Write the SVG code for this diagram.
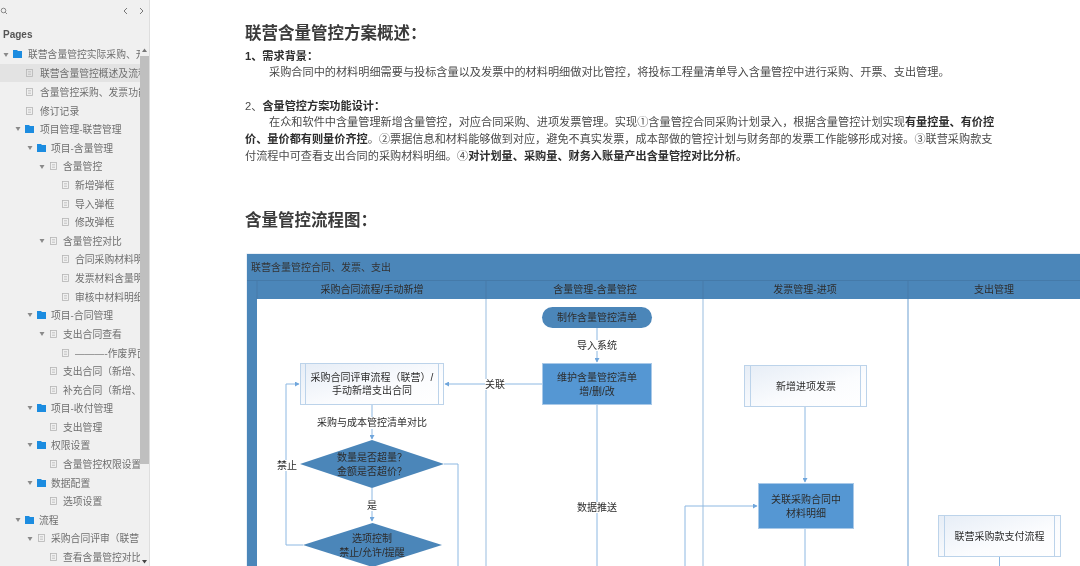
<svg xmlns="http://www.w3.org/2000/svg" width="1080" height="566" viewBox="0 0 1080 566">
<style>
text{font-family:"Liberation Sans","Noto Sans CJK SC",sans-serif;fill:#333}
.t{font-size:9.8px;fill:#6e6e6e}
.h{font-size:16.5px;font-weight:700;fill:#3a3a3a}
.b{font-size:11.16px;fill:#4a4a4a}
.bb{font-weight:700;fill:#2e2e2e}
.f{font-size:10px;text-anchor:middle;fill:#2c2c2c}
.c{fill:none;stroke:#8db8e2;stroke-width:1}
.lane{stroke:#bcd3ea;stroke-width:1.5;fill:none}
.doc{fill:url(#dg);stroke:#bcd3ea;stroke-width:1}
.blue{fill:#5597d3;stroke:#a9c9e8;stroke-width:1}
.dark{fill:#4c86b9}
.ic{fill:none;stroke:#b5b5b5;stroke-width:.8}
.fo{fill:#1c8ce0}
.ar{fill:#8a8a8a}
.w{fill:#fff}
</style>
<defs>
<linearGradient id="dg" x1="0" y1="0" x2="1" y2="1"><stop offset="0" stop-color="#e6edf6"/><stop offset=".6" stop-color="#fbfcfe"/><stop offset="1" stop-color="#fff"/></linearGradient>
<marker id="a" markerWidth="5" markerHeight="5" refX="4" refY="2.5" orient="auto" markerUnits="userSpaceOnUse"><path d="M0 0L4.500 2.500L0 5Z" fill="#6fa6dc"/></marker>
<clipPath id="sc"><rect x="0" y="44" width="140" height="522"/></clipPath>
<filter id="bl" x="0" y="0" width="100%" height="100%" filterUnits="objectBoundingBox"><feGaussianBlur stdDeviation="0.45"/></filter>
<symbol id="pg" width="8" height="8" viewBox="0 0 8 8" overflow="visible"><rect x=".5" y=".5" width="6" height="7" class="ic"/><path d="M2 2.800H5M2 5.200H5" class="ic"/></symbol>
<symbol id="fd" width="10" height="8" viewBox="0 0 10 8"><path d="M0 0H4L5 1H9V8H0Z" class="fo"/></symbol>
<symbol id="tg" width="6" height="4" viewBox="0 0 6 4"><path d="M.5 0H5.500L3 4Z" class="ar"/></symbol>
</defs>
<g filter="url(#bl)">
<rect width="1080" height="566" fill="#fff"/>
<g id="sidebar">
<rect width="149" height="566" fill="#f0f0f0"/>
<rect x="149" width="1" height="566" fill="#dedede"/>
<rect y="64" width="140" height="18" fill="#e3e3e3"/>
<rect x="140" y="56" width="9" height="408" fill="#bfbfbf"/>
<path d="M144.500 48.500L147 52H142Z" fill="#777"/><path d="M142 560H147L144.500 563.500Z" fill="#444"/>
<circle cx="3.500" cy="10.500" r="2.300" fill="none" stroke="#888"/><path d="M5.200 12.200L7 14" stroke="#888"/>
<path d="M127 8L124 11L127 14M140 8L143 11L140 14" fill="none" stroke="#777"/>
<text x="3" y="38" style="font-size:10px;font-weight:700;fill:#555">Pages</text>
<g clip-path="url(#sc)">
<use href="#tg" x="3" y="53"/><use href="#fd" x="13" y="50"/><text class="t" x="28" y="58">联营含量管控实际采购、开</text>
<use href="#pg" x="26" y="69"/><text class="t" x="40" y="77">联营含量管控概述及流程</text>
<use href="#pg" x="26" y="88"/><text class="t" x="40" y="96">含量管控采购、发票功能</text>
<use href="#pg" x="26" y="107"/><text class="t" x="40" y="115">修订记录</text>
<use href="#tg" x="15" y="127"/><use href="#fd" x="25" y="125"/><text class="t" x="40" y="133">项目管理-联营管理</text>
<use href="#tg" x="27" y="146"/><use href="#fd" x="37" y="144"/><text class="t" x="51" y="152">项目-含量管理</text>
<use href="#tg" x="39" y="165"/><use href="#pg" x="50" y="162"/><text class="t" x="63" y="170">含量管控</text>
<use href="#pg" x="62" y="181"/><text class="t" x="75" y="189">新增弹框</text>
<use href="#pg" x="62" y="200"/><text class="t" x="75" y="208">导入弹框</text>
<use href="#pg" x="62" y="218"/><text class="t" x="75" y="226">修改弹框</text>
<use href="#tg" x="39" y="239"/><use href="#pg" x="50" y="237"/><text class="t" x="63" y="245">含量管控对比</text>
<use href="#pg" x="62" y="255"/><text class="t" x="75" y="263">合同采购材料明</text>
<use href="#pg" x="62" y="274"/><text class="t" x="75" y="282">发票材料含量明</text>
<use href="#pg" x="62" y="293"/><text class="t" x="75" y="301">审核中材料明细</text>
<use href="#tg" x="27" y="313"/><use href="#fd" x="37" y="311"/><text class="t" x="51" y="319">项目-合同管理</text>
<use href="#tg" x="39" y="332"/><use href="#pg" x="50" y="330"/><text class="t" x="63" y="338">支出合同查看</text>
<use href="#pg" x="62" y="349"/><text class="t" x="75" y="357">———-作废界面</text>
<use href="#pg" x="50" y="367"/><text class="t" x="63" y="375">支出合同（新增、</text>
<use href="#pg" x="50" y="386"/><text class="t" x="63" y="394">补充合同（新增、</text>
<use href="#tg" x="27" y="406"/><use href="#fd" x="37" y="404"/><text class="t" x="51" y="412">项目-收付管理</text>
<use href="#pg" x="50" y="423"/><text class="t" x="63" y="431">支出管理</text>
<use href="#tg" x="27" y="443"/><use href="#fd" x="37" y="441"/><text class="t" x="51" y="449">权限设置</text>
<use href="#pg" x="50" y="460"/><text class="t" x="63" y="468">含量管控权限设置</text>
<use href="#tg" x="27" y="481"/><use href="#fd" x="37" y="479"/><text class="t" x="51" y="487">数据配置</text>
<use href="#pg" x="50" y="497"/><text class="t" x="63" y="505">选项设置</text>
<use href="#tg" x="15" y="518"/><use href="#fd" x="25" y="516"/><text class="t" x="39" y="524">流程</text>
<use href="#tg" x="27" y="537"/><use href="#pg" x="38" y="534"/><text class="t" x="51" y="542">采购合同评审（联营</text>
<use href="#pg" x="50" y="553"/><text class="t" x="63" y="561">查看含量管控对比</text>
</g>
</g>
<g id="document">
<text class="h" x="245" y="39">联营含量管控方案概述：</text>
<text class="b bb" x="245" y="60">1、需求背景：</text>
<text class="b" x="269" y="76">采购合同中的材料明细需要与投标含量以及发票中的材料明细做对比管控，将投标工程量清单导入含量管控中进行采购、开票、支出管理。</text>
<text class="b" x="245" y="110">2、<tspan class="bb">含量管控方案功能设计：</tspan></text>
<text class="b" x="269" y="126">在众和软件中含量管理新增含量管控，对应合同采购、进项发票管理。实现①含量管控合同采购计划录入，根据含量管控计划实现<tspan class="bb">有量控量、有价控</tspan></text>
<text class="b" x="245" y="143"><tspan class="bb">价、量价都有则量价齐控</tspan>。②票据信息和材料能够做到对应，避免不真实发票，成本部做的管控计划与财务部的发票工作能够形成对接。③联营采购款支</text>
<text class="b" x="245" y="160">付流程中可查看支出合同的采购材料明细。④<tspan class="bb">对计划量、采购量、财务入账量产出含量管控对比分析。</tspan></text>
<text class="h" x="245" y="226">含量管控流程图：</text>
</g>
<g id="swimlanes">
<rect x="246.500" y="253.500" width="834" height="313" fill="#d5e2ef"/>
<rect x="247" y="254" width="833" height="312" class="dark"/>
<rect x="257" y="299" width="823" height="267" fill="#fff"/>
<path d="M247 280.500H1080" stroke="#457aa9"/>
<path d="M257 281V299" stroke="#457aa9"/>
<path d="M486 281V299M703 281V299M908 281V299" stroke="#457aa9"/>
<path d="M486 299V566M703 299V566" class="lane"/>
<path d="M908 299V566" class="lane" style="stroke:#9dbfe0"/>
<text x="251" y="271" style="font-size:10px">联营含量管控合同、发票、支出</text>
<text class="f" x="372" y="293">采购合同流程/手动新增</text>
<text class="f" x="595" y="293">含量管理-含量管控</text>
<text class="f" x="805" y="293">发票管理-进项</text>
<text class="f" x="994" y="293">支出管理</text>
</g>
<g id="connectors">
<path class="c" d="M597 328V362" marker-end="url(#a)"/>
<path class="c" d="M542 384H445" marker-end="url(#a)"/>
<path class="c" d="M372 405V439" marker-end="url(#a)"/>
<path class="c" d="M372 488V521" marker-end="url(#a)"/>
<path class="c" d="M303 545H286V384H299" marker-end="url(#a)"/>
<path class="c" d="M444 464H458V566"/>
<path class="c" d="M597 405V566"/>
<path class="c" d="M805 407V482" marker-end="url(#a)"/>
<path class="c" d="M805 529V566"/>
<path class="c" d="M685 566V506H757" marker-end="url(#a)"/>
<path class="c" d="M999.500 557V566"/>
<rect class="w" x="485" y="379" width="20" height="11"/><text class="f" x="495" y="388">关联</text>
<rect class="w" x="317" y="417" width="111" height="12"/><text class="f" x="372" y="426">采购与成本管控清单对比</text>
<rect class="w" x="277" y="460" width="20" height="11"/><text class="f" x="287" y="469">禁止</text>
<rect class="w" x="367" y="500" width="10" height="11"/><text class="f" x="372" y="509">是</text>
<rect class="w" x="577" y="340" width="40" height="11"/><text class="f" x="597" y="349">导入系统</text>
<rect class="w" x="577" y="502" width="40" height="11"/><text class="f" x="597" y="511">数据推送</text>
</g>
<g id="n-contract-review">
<rect class="doc" x="300.500" y="363.500" width="143" height="41"/><path class="lane" style="stroke-width:1" d="M305.500 364V404M438.500 364V404"/>
<text class="f" x="372" y="381">采购合同评审流程（联营）/</text><text class="f" x="372" y="394">手动新增支出合同</text>
</g>
<g id="n-qty-check">
<path class="dark" d="M372 440L444 464L372 488L300 464Z"/>
<text class="f" x="372" y="461">数量是否超量？</text><text class="f" x="372" y="475">金额是否超价？</text>
</g>
<g id="n-option">
<path class="dark" d="M372.500 523L442 545L372.500 567L303 545Z"/>
<text class="f" x="372" y="542">选项控制</text><text class="f" x="372" y="556">禁止/允许/提醒</text>
</g>
<g id="n-make-list">
<rect class="dark" x="542" y="307" width="110" height="21" rx="10.500"/>
<text class="f" x="597" y="321">制作含量管控清单</text>
</g>
<g id="n-maintain-list">
<rect class="blue" x="542.500" y="363.500" width="109" height="41"/>
<text class="f" x="597" y="381">维护含量管控清单</text><text class="f" x="597" y="395">增/删/改</text>
</g>
<g id="n-new-invoice">
<rect class="doc" x="744.500" y="365.500" width="122" height="41"/><path class="lane" style="stroke-width:1" d="M750.500 366V406M860.500 366V406"/>
<text class="f" x="806" y="390">新增进项发票</text>
</g>
<g id="n-link-material">
<rect class="blue" x="758.500" y="483.500" width="95" height="45"/>
<text class="f" x="806" y="503">关联采购合同中</text><text class="f" x="806" y="517">材料明细</text>
</g>
<g id="n-payment">
<rect class="doc" x="938.500" y="515.500" width="122" height="41"/><path class="lane" style="stroke-width:1" d="M944.500 516V556M1054.500 516V556"/>
<text class="f" x="999.500" y="540">联营采购款支付流程</text>
</g>
</g>
</svg>
